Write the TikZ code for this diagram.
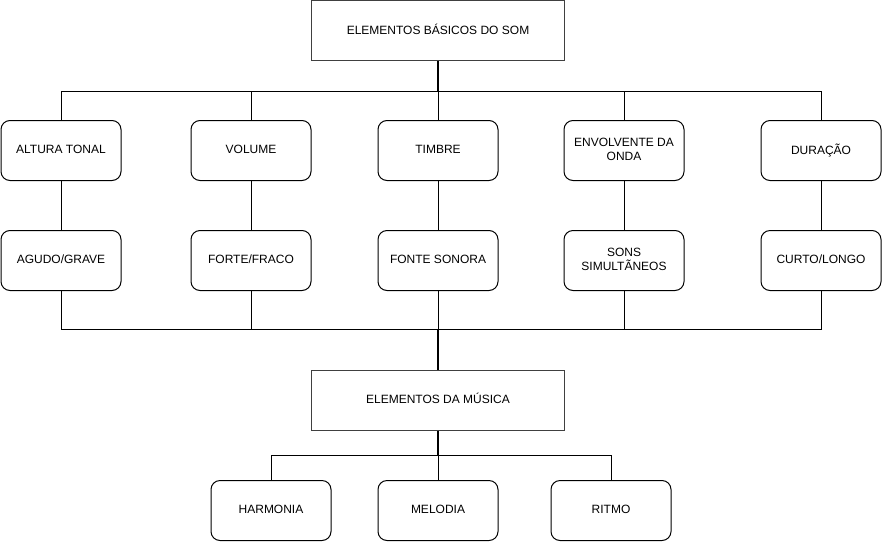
\documentclass[tikz,border=0pt]{standalone}
\usepackage{fontspec}
\setmainfont{Liberation Sans}
\usetikzlibrary{calc}
\begin{document}
\begin{tikzpicture}[x=1pt,y=-1pt,
  box/.style={draw=black,line width=1pt,rounded corners=9pt,minimum width=120pt,minimum height=60pt,inner sep=2pt,align=center,font=\fontsize{12}{14}\selectfont,anchor=north west},
  bigbox/.style={draw=black!75,line width=1pt,minimum width=253pt,minimum height=60pt,inner sep=2pt,align=center,font=\fontsize{12}{14}\selectfont,anchor=north west},
  conn/.style={draw=black,line width=1pt},
  stem/.style={draw=black,line width=1.5pt}]
\useasboundingbox (0,0) rectangle (882,541);
\node[bigbox] (top) at (311,0) {ELEMENTOS BÁSICOS DO SOM\rule[-3pt]{0pt}{3pt}};
\node[box] (a1) at (0.5,120) {ALTURA TONAL\rule[-3pt]{0pt}{3pt}};
\node[box] (a2) at (190.5,120) {VOLUME\rule[-3pt]{0pt}{3pt}};
\node[box] (a3) at (377.5,120) {TIMBRE\rule[-3pt]{0pt}{3pt}};
\node[box] (a4) at (563.5,120) {ENVOLVENTE DA\\ONDA\rule[-3pt]{0pt}{3pt}};
\node[box] (a5) at (760.5,120) {DURAÇÃO\rule[-3pt]{0pt}{3pt}};
\node[box] (b1) at (0.5,230) {AGUDO/GRAVE\rule[-3pt]{0pt}{3pt}};
\node[box] (b2) at (190.5,230) {FORTE/FRACO\rule[-3pt]{0pt}{3pt}};
\node[box] (b3) at (377.5,230) {FONTE SONORA\rule[-3pt]{0pt}{3pt}};
\node[box] (b4) at (563.5,230) {SONS\\SIMULTÃNEOS\rule[-3pt]{0pt}{3pt}};
\node[box] (b5) at (760.5,230) {CURTO/LONGO\rule[-3pt]{0pt}{3pt}};
\node[bigbox] (mus) at (311,369.5) {ELEMENTOS DA MÚSICA\rule[-3pt]{0pt}{3pt}};
\node[box] (c1) at (210.5,480) {HARMONIA\rule[-3pt]{0pt}{3pt}};
\node[box] (c2) at (377.5,480) {MELODIA\rule[-3pt]{0pt}{3pt}};
\node[box] (c3) at (550.5,480) {RITMO\rule[-3pt]{0pt}{3pt}};
\coordinate (j1) at ($(top.south)+(0,30)$);
\draw[stem] (top.south) -- (j1);
\foreach \n in {a1,a2,a3,a4,a5}{\draw[conn] (j1) -| (\n.north);}
\foreach \i in {1,...,5}{\draw[conn] (a\i.south) -- (b\i.north);}
\coordinate (j2) at ($(mus.north)+(0,-40)$);
\foreach \i in {1,...,5}{\draw[conn] (b\i.south) |- (j2);}
\draw[stem] (j2) -- (mus.north);
\coordinate (j3) at ($(mus.south)+(0,25)$);
\draw[stem] (mus.south) -- (j3);
\foreach \n in {c1,c2,c3}{\draw[conn] (j3) -| (\n.north);}
\end{tikzpicture}
\end{document}
